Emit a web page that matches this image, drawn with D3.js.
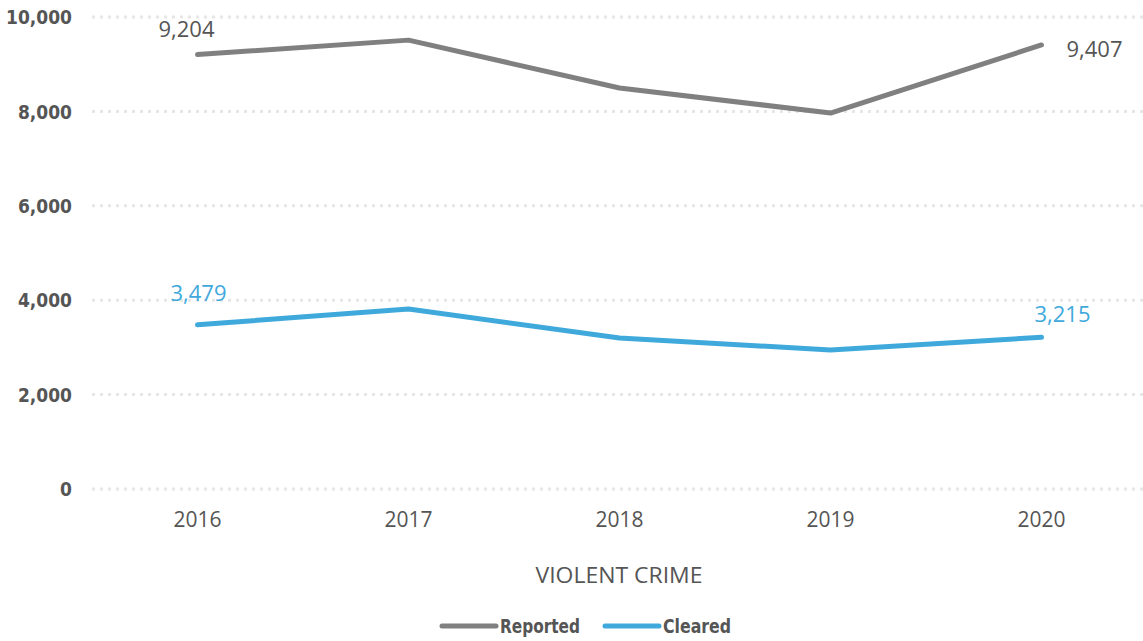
<!DOCTYPE html>
<html><head><meta charset="utf-8">
<script src="https://cdn.jsdelivr.net/npm/d3@7"></script>
<style>body{margin:0;background:#fff}svg{display:block}</style>
</head><body><svg id="c" width="1143" height="641"></svg>
<script>
const years = ["2016","2017","2018","2019","2020"];
const reported = [9204, 9510, 8496, 7966, 9407];
const cleared = [3479, 3813, 3199, 2945, 3215];
const yTicks = [0, 2000, 4000, 6000, 8000, 10000];
const seriesNames = ["Reported", "Cleared"];
const colors = ["#808080", "#3FA9DC"];

const svg = d3.select("#c");
const x = d3.scaleBand().domain(years).range([92, 1147]);
const y = d3.scaleLinear().domain([0, 10000]).range([489, 17]);
const fmt = d3.format(",");
const condensed = "'DejaVu Sans Condensed','Liberation Sans Narrow',sans-serif";

// grid
svg.append("g").selectAll("line").data(yTicks).join("line")
  .attr("x1", 92).attr("x2", 1143)
  .attr("y1", d => y(d)).attr("y2", d => y(d))
  .attr("stroke", "#e6e6e6").attr("stroke-width", 3).attr("stroke-dasharray", "3,5");

// y labels
const yAxis = d3.axisLeft(y).tickValues(yTicks).tickFormat(fmt).tickSize(0).tickPadding(0);
const ya = svg.append("g").attr("transform", "translate(72,0)").call(yAxis);
ya.select(".domain").remove();
ya.selectAll("text").attr("font-family", condensed)
  .attr("font-weight", "bold").attr("font-size", 19).attr("fill", "#555").attr("dy", "0.35em");

// x labels
const xAxis = d3.axisBottom(x).tickSize(0).tickPadding(0);
const xa = svg.append("g").attr("transform", "translate(0,512)").call(xAxis);
xa.select(".domain").remove();
xa.selectAll("text").attr("font-family", "'Open Sans',sans-serif").attr("font-size", 21).attr("fill", "#555").attr("dy", "0.71em");

svg.append("text").attr("x", 619).attr("y", 583).attr("text-anchor", "middle")
  .attr("font-family", "'Open Sans',sans-serif").attr("font-size", 21).attr("fill", "#555")
  .attr("textLength", 167).attr("lengthAdjust", "spacingAndGlyphs").text("VIOLENT CRIME");

const cx = d => x(d) + x.bandwidth() / 2;
const line = d3.line().x((d, i) => cx(years[i])).y(d => y(d));
[reported, cleared].forEach((s, k) => {
  svg.append("path").datum(s).attr("d", line).attr("fill", "none")
    .attr("stroke", colors[k]).attr("stroke-width", 5).attr("stroke-linecap", "round").attr("stroke-linejoin", "round");
});

// data labels
const lab = (txt, xx, yy, col, anchor) => svg.append("text").attr("x", xx).attr("y", yy)
  .attr("text-anchor", anchor).attr("font-family", "'Open Sans',sans-serif").attr("font-size", 22)
  .attr("fill", col).text(txt);
lab(fmt(reported[0]), cx(years[0]) - 11, y(reported[0]) - 18, "#555", "middle");
lab(fmt(reported[4]), cx(years[4]) + 25, y(reported[4]) + 12, "#555", "start");
lab(fmt(cleared[0]), cx(years[0]) + 1, y(cleared[0]) - 24, colors[1], "middle");
lab(fmt(cleared[4]), cx(years[4]) + 21, y(cleared[4]) - 15, colors[1], "middle");

// legend
const lg = svg.append("g");
const legX = [442, 605];
const legW = [80, 68];
seriesNames.forEach((n, k) => {
  lg.append("line").attr("x1", legX[k]).attr("x2", legX[k] + 54).attr("y1", 626).attr("y2", 626)
    .attr("stroke", colors[k]).attr("stroke-width", 5).attr("stroke-linecap", "round");
  lg.append("text").attr("x", legX[k] + 58).attr("y", 626).attr("dy", "0.35em")
    .attr("font-family", condensed)
    .attr("font-weight", "bold").attr("font-size", 20).attr("fill", "#555")
    .attr("textLength", legW[k]).attr("lengthAdjust", "spacingAndGlyphs").text(n);
});
</script></body></html>
